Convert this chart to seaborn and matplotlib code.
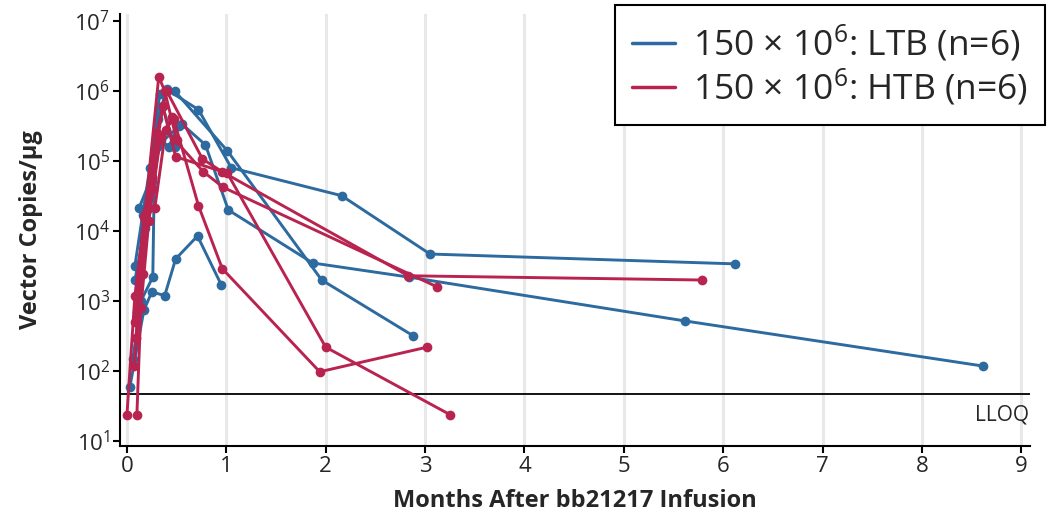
import numpy as np
import pandas as pd
import seaborn as sns
import matplotlib.pyplot as plt
from matplotlib.lines import Line2D
from matplotlib.ticker import NullLocator

# data (months after infusion, vector copies / ug)
ltb_label = '150 × 10$^{6}$: LTB (n=6)'
htb_label = '150 × 10$^{6}$: HTB (n=6)'

ltb_months = [
    [0.08, 0.23, 0.33, 0.48, 1.01, 1.96, 2.88],
    [0.12, 0.25, 0.31, 0.40, 0.72, 1.05, 2.16, 3.05, 6.12],
    [0.08, 0.18, 0.30, 0.55, 0.79, 1.02, 1.87, 2.84, 5.62, 8.62],
    [0.03, 0.17, 0.25, 0.38, 0.49, 0.71, 0.95],
    [0.06, 0.14, 0.26, 0.28, 0.36, 0.48],
    [0.10, 0.16, 0.25, 0.34, 0.42, 0.52],
]
ltb_copies = [
    [3200, 8.0e4, 9.0e5, 1.0e6, 1.4e5, 2000, 320],
    [2.1e4, 6.0e4, 4.0e5, 1.05e6, 5.4e5, 8.0e4, 3.2e4, 4700, 3400],
    [2000, 1.1e4, 1.6e5, 3.4e5, 1.7e5, 2.0e4, 3500, 2200, 520, 118],
    [60, 740, 1350, 1200, 4000, 8500, 1700],
    [150, 1000, 2200, 1.5e5, 6.0e5, 1.6e5],
    [700, 1.7e4, 5.0e4, 2.0e5, 1.6e5, 3.2e5],
]

htb_months = [
    [0.00, 0.08, 0.18, 0.32, 0.38, 0.50],
    [0.10, 0.14, 0.22, 0.34, 0.47, 0.72, 0.96, 1.94, 3.02],
    [0.07, 0.16, 0.25, 0.36, 0.49, 1.01, 2.00, 3.25],
    [0.08, 0.18, 0.30, 0.40, 0.76, 0.96, 2.83, 5.79],
    [0.09, 0.20, 0.28, 0.39, 0.77, 0.97, 3.12],
    [0.10, 0.17, 0.26, 0.33, 0.45],
]
htb_copies = [
    [24, 1200, 1.7e4, 1.6e6, 1.0e6, 2.0e5],
    [24, 800, 1.4e4, 2.3e5, 4.0e5, 2.3e4, 2900, 98, 220],
    [117, 2400, 5.7e4, 6.0e5, 1.15e5, 6.7e4, 220, 24],
    [500, 1.5e4, 2.5e5, 1.0e6, 1.07e5, 7.0e4, 2300, 2000],
    [300, 2.0e4, 2.1e4, 2.8e5, 7.0e4, 4.2e4, 1600],
    [1200, 1.6e4, 4.0e4, 2.0e5, 4.2e5],
]

lloq = 47
y_ticks = [1e1, 1e2, 1e3, 1e4, 1e5, 1e6, 1e7]

rows = []
for grp, months, copies in [(ltb_label, ltb_months, ltb_copies),
                            (htb_label, htb_months, htb_copies)]:
    for i, (mm, cc) in enumerate(zip(months, copies)):
        for m, c in zip(mm, cc):
            rows.append({'group': grp, 'patient': f'{grp}-{i}', 'month': m, 'copies': c})
df = pd.DataFrame(rows)

blue = '#2c6a9f'
red = '#b8234f'
palette = {ltb_label: blue, htb_label: red}

sns.set_theme(style='white')
plt.rcParams['font.family'] = ['Open Sans', 'DejaVu Sans']
plt.rcParams['mathtext.default'] = 'regular'

fig = plt.figure(figsize=(10.48, 5.14), dpi=100)
ax = fig.add_axes([0.1145, 0.132, 0.8685, 0.841])

for x in range(10):
    ax.axvline(x, color='#e8e8e8', lw=2.2, zorder=0)

sns.lineplot(data=df, x='month', y='copies', hue='group', units='patient',
             estimator=None, sort=False, palette=palette, marker='o',
             markersize=7, markeredgewidth=0, linewidth=2.1, legend=False, ax=ax)

ax.axhline(lloq, color='black', lw=1.3, zorder=1)
ax.text(9.08, lloq * 0.72, 'LLOQ', ha='right', va='top', fontsize=15)

ax.set_yscale('log')
ax.set_ylim(8.5, 1.26e7)
ax.set_xlim(-0.07, 9.09)
ax.set_xticks(range(10))
ax.set_yticks(y_ticks)
ax.yaxis.set_minor_locator(NullLocator())

for side in ['top', 'right']:
    ax.spines[side].set_visible(False)
for side in ['left', 'bottom']:
    ax.spines[side].set_color('black')
    ax.spines[side].set_linewidth(1.5)
ax.tick_params(axis='both', which='major', direction='out', length=5, width=1.5,
               color='black', labelsize=16, bottom=True, left=True, pad=2)

ax.set_xlabel('Months After bb21217 Infusion', fontsize=17, fontweight='bold', labelpad=9)
ax.set_ylabel('Vector Copies/µg', fontsize=17, fontweight='bold', labelpad=22)

handles = [Line2D([], [], color=blue, lw=2.5), Line2D([], [], color=red, lw=2.5)]
leg = ax.legend(handles, [ltb_label, htb_label], loc='upper right',
                bbox_to_anchor=(1.0165, 1.021), borderaxespad=0, fontsize=25.5,
                frameon=True, fancybox=False, framealpha=1, edgecolor='black',
                handlelength=1.2, handletextpad=0.5, borderpad=0.5,
                labelspacing=0.08)
leg.get_frame().set_linewidth(1.5)

fig.savefig('out.png', dpi=100)
